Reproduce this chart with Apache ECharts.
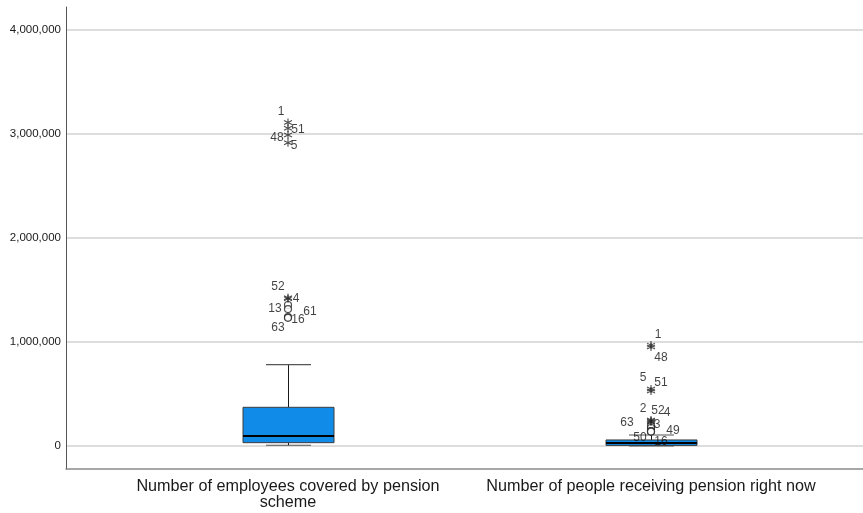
<!DOCTYPE html>
<html>
<head>
<meta charset="utf-8">
<script src="https://cdn.jsdelivr.net/npm/echarts@6/dist/echarts.min.js"></script>
<style>
  html, body { margin: 0; padding: 0; background: #ffffff; }
  #chart { width: 863px; height: 513px; }
</style>
</head>
<body>
<div id="chart"></div>
<script>
// Variables on the x axis
const categories = [
  'Number of employees covered by pension\nscheme',
  'Number of people receiving pension right now'
];

// Box summaries: [lower whisker, Q1, median, Q3, upper whisker]
const employeesBox = [7000, 32000, 96000, 372000, 782000];
const receivingBox = [2000, 6000, 30000, 58000, 106000];

// Outliers (circles) and extremes (asterisks), labelled by case number
const employeesOutlierIds = ['13', '61', '16', '63'];
const employeesOutlierValues = [1356000, 1317000, 1240000, 1232000];
const employeesExtremeIds = ['1', '51', '48', '5', '52', '4'];
const employeesExtremeValues = [3110000, 3055000, 2990000, 2915000, 1425000, 1415000];

const receivingOutlierIds = ['63', '3', '49', '50', '16'];
const receivingOutlierValues = [192000, 173000, 144000, 141000, 139000];
const receivingExtremeIds = ['1', '48', '5', '51', '2', '52', '4'];
const receivingExtremeValues = [970000, 952000, 548000, 529000, 250000, 240000, 231000];

// Value axis ticks
const yTicks = [0, 1000000, 2000000, 3000000, 4000000];

// Case-label placement next to each marker (pixel offsets)
const labelOffsets = {
  'e-1': [-7, -11], 'e-51': [10, 1], 'e-48': [-11, 3], 'e-5': [6, 3],
  'e-52': [-10, -11], 'e-4': [8, 0], 'e-13': [-13, 4], 'e-61': [22, 3],
  'e-16': [10, 3], 'e-63': [-10, 10],
  'r-1': [7, -10], 'r-48': [10, 11], 'r-5': [-8, -11], 'r-51': [10, -8],
  'r-2': [-8, -11], 'r-52': [7, -10], 'r-4': [16, -9], 'r-63': [-24, -3],
  'r-3': [6, -3], 'r-49': [22, 0], 'r-50': [-11, 6], 'r-16': [10, 10]
};

const FONT = '"Liberation Sans", Arial, sans-serif';

// Horizontal layout: category 0 at x=0, category 1 at x=1
const GRID_LEFT = 66, GRID_RIGHT = 0, GRID_TOP = 7, GRID_BOTTOM = 44;
const CENTER0 = 288, CENTER1 = 651;
const unitPx = CENTER1 - CENTER0;
const xMin = -(CENTER0 - GRID_LEFT) / unitPx;
const xMax = (863 - GRID_RIGHT - CENTER0) / unitPx;

// Vertical layout: value 0 at y=446, 104 px per million
const Y0 = 446, PX_PER_UNIT = 104 / 1000000;
const yMin = -(513 - GRID_BOTTOM - Y0) / PX_PER_UNIT;
const yMax = (Y0 - GRID_TOP) / PX_PER_UNIT;

const BOX_W = 91;
const CAP_W = 45;

function pointData(prefix, x, ids, values) {
  return ids.map((id, i) => {
    const off = labelOffsets[prefix + '-' + id] || [8, 0];
    return {
      name: id,
      value: [x, values[i]],
      label: { offset: off }
    };
  });
}

// Box, whiskers with short caps, and a heavy median bar
function renderBox(params, api) {
  const x = api.value(0);
  const pMin = api.coord([x, api.value(1)]);
  const pQ1 = api.coord([x, api.value(2)]);
  const pMed = api.coord([x, api.value(3)]);
  const pQ3 = api.coord([x, api.value(4)]);
  const pMax = api.coord([x, api.value(5)]);
  const cx = Math.round(pMed[0]) + 0.5;
  const half = BOX_W / 2, capHalf = CAP_W / 2;
  const whisker = { stroke: '#1a1a1a', lineWidth: 1 };
  const cap = { stroke: '#555555', lineWidth: 1.2 };
  return {
    type: 'group',
    children: [
      { type: 'line', shape: { x1: cx, y1: pQ3[1], x2: cx, y2: pMax[1] }, style: whisker },
      { type: 'line', shape: { x1: cx, y1: pQ1[1], x2: cx, y2: pMin[1] }, style: whisker },
      { type: 'line', shape: { x1: cx - capHalf, y1: pMax[1], x2: cx + capHalf, y2: pMax[1] }, style: cap },
      { type: 'line', shape: { x1: cx - capHalf, y1: pMin[1], x2: cx + capHalf, y2: pMin[1] }, style: cap },
      {
        type: 'rect',
        shape: { x: cx - half, y: pQ3[1], width: BOX_W, height: pQ1[1] - pQ3[1] },
        style: { fill: '#118be8', stroke: '#3c3c3c', lineWidth: 1 }
      },
      {
        type: 'line',
        shape: { x1: cx - half, y1: pMed[1], x2: cx + half, y2: pMed[1] },
        style: { stroke: '#000000', lineWidth: 2 }
      }
    ]
  };
}

const starPath = 'path://M0,-10L0,10M-8.66,-5L8.66,5M-8.66,5L8.66,-5';

const pointLabel = {
  show: true,
  position: 'inside',
  formatter: p => p.name,
  color: '#111111',
  textBorderWidth: 0,
  textBorderColor: 'transparent',
  fontFamily: FONT,
  fontSize: 12
};

const chart = echarts.init(document.getElementById('chart'), null, { renderer: 'canvas' });

chart.setOption({
  animation: false,
  backgroundColor: '#ffffff',
  grid: { left: GRID_LEFT, right: GRID_RIGHT, top: GRID_TOP, bottom: GRID_BOTTOM },
  xAxis: {
    type: 'value',
    min: xMin,
    max: xMax,
    axisLine: { show: true, onZero: false, lineStyle: { color: '#8a8a8a', width: 1.5 } },
    axisTick: { show: false },
    splitLine: { show: false },
    axisLabel: {
      customValues: [0, 1],
      formatter: v => categories[Math.round(v)],
      color: '#1a1a1a',
      fontFamily: FONT,
      fontSize: 16.2,
      lineHeight: 16,
      margin: 10,
      align: 'center'
    }
  },
  yAxis: {
    type: 'value',
    min: yMin,
    max: yMax,
    axisLine: { show: true, onZero: false, lineStyle: { color: '#555555', width: 1 } },
    axisTick: { show: false, customValues: yTicks },
    splitLine: { show: true, lineStyle: { color: '#d2d2d2', width: 1.6 } },
    axisLabel: {
      customValues: yTicks,
      formatter: v => v.toLocaleString('en-US'),
      color: '#1a1a1a',
      fontFamily: FONT,
      fontSize: 11.5,
      margin: 5
    }
  },
  series: [
    {
      type: 'custom',
      data: [
        [0].concat(employeesBox),
        [1].concat(receivingBox)
      ],
      encode: { x: 0, y: [1, 2, 3, 4, 5] },
      renderItem: renderBox,
      silent: true,
      z: 3
    },
    {
      type: 'scatter',
      symbol: 'circle',
      symbolSize: 7,
      data: pointData('e', 0, employeesOutlierIds, employeesOutlierValues)
        .concat(pointData('r', 1, receivingOutlierIds, receivingOutlierValues)),
      itemStyle: { color: '#ffffff', borderColor: '#222222', borderWidth: 1.2 },
      label: pointLabel,
      silent: true,
      z: 6
    },
    {
      type: 'scatter',
      symbol: starPath,
      symbolSize: 8,
      data: pointData('e', 0, employeesExtremeIds, employeesExtremeValues)
        .concat(pointData('r', 1, receivingExtremeIds, receivingExtremeValues)),
      itemStyle: { color: 'none', borderColor: '#222222', borderWidth: 1.1 },
      label: pointLabel,
      silent: true,
      z: 7
    }
  ]
});
</script>
</body>
</html>
